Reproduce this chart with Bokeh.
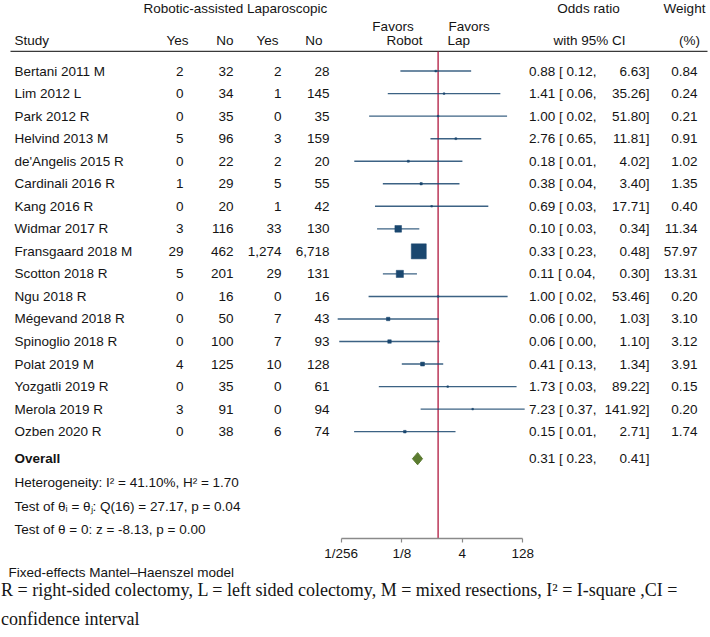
import numpy as np
from bokeh.plotting import figure
from bokeh.layouts import column
from bokeh.models import Range1d, LinearScale, FixedTicker, CustomJSTickFormatter, ColumnDataSource
from bokeh.core.properties import value
from bokeh.embed import file_html
from bokeh.resources import INLINE

# ---------------- data ----------------
studies = ["Bertani 2011 M", "Lim 2012 L", "Park 2012 R", "Helvind 2013 M",
           "de'Angelis 2015 R", "Cardinali 2016 R", "Kang 2016 R", "Widmar 2017 R",
           "Fransgaard 2018 M", "Scotton 2018 R", "Ngu 2018 R", "Mégevand 2018 R",
           "Spinoglio 2018 R", "Polat 2019 M", "Yozgatli 2019 R", "Merola 2019 R",
           "Ozben 2020 R"]
robot_yes = [2, 0, 0, 5, 0, 1, 0, 3, 29, 5, 0, 0, 0, 4, 0, 3, 0]
robot_no = [32, 34, 35, 96, 22, 29, 20, 116, 462, 201, 16, 50, 100, 125, 35, 91, 38]
lap_yes = [2, 1, 0, 3, 2, 5, 1, 33, 1274, 29, 0, 7, 7, 10, 0, 0, 6]
lap_no = [28, 145, 35, 159, 20, 55, 42, 130, 6718, 131, 16, 43, 93, 128, 61, 94, 74]
odds_ratio = [0.876, 1.406, 1.000, 2.760, 0.182, 0.379, 0.691, 0.102, 0.331, 0.112,
              1.000, 0.0574, 0.0620, 0.410, 1.732, 7.230, 0.149]
ci_low = [0.1155, 0.0561, 0.0193, 0.6453, 0.00825, 0.0423, 0.0270, 0.0304, 0.2263, 0.0424,
          0.0187, 0.00319, 0.00349, 0.1252, 0.0336, 0.368, 0.00817]
ci_high = [6.63, 35.26, 51.80, 11.81, 4.02, 3.40, 17.71, 0.341, 0.484, 0.298,
           53.46, 1.033, 1.10, 1.34, 89.22, 141.92, 2.71]
weight = [0.84, 0.24, 0.21, 0.91, 1.02, 1.35, 0.40, 11.34, 57.97, 13.31,
          0.20, 3.10, 3.12, 3.91, 0.15, 0.20, 1.74]
overall_or, overall_low, overall_high = 0.31, 0.23, 0.41
axis_ticks = [1 / 256, 1 / 8, 4, 128]
axis_tick_labels = ["1/256", "1/8", "4", "128"]
heterogeneity_text = "Heterogeneity: I² = 41.10%, H² = 1.70"
homogeneity_text = "Test of θᵢ = θⱼ: Q(16) = 27.17, p = 0.04"
effect_text = "Test of θ = 0: z = -8.13, p = 0.00"
model_text = "Fixed-effects Mantel–Haenszel model"
note_line1 = "R = right-sided colectomy, L = left sided colectomy, M = mixed resections, I² = I-square ,CI ="
note_line2 = "confidence interval"

# ---------------- layout constants ----------------
W = 710
FRAME_H = 539
AX_H = 24
NOTE_H = 73
PX_PER_LOG2 = 12.11
NULL_PX = 437.6
x_lo = 2 ** (-NULL_PX / PX_PER_LOG2)
x_hi = 2 ** ((W - NULL_PX) / PX_PER_LOG2)
Y_BOTTOM, Y_TOP = 20.74, -3.131

FONT = value("Liberation Sans")
SERIF = value("Liberation Serif")
FS = "13.5px"
TXT = "#141414"
NAVY = "#1a476f"
RED = "#b0173e"
GREEN = "#5b7b30"

rows = np.arange(len(studies), dtype=float)
ROW_TOP = -2.777
ROW_FAVORS = -1.98
ROW_HEAD = -1.36
ROW_LINE = -0.872
ROW_OVERALL = 17.2
ROW_HET = 18.26
ROW_T1 = 19.31
ROW_T2 = 20.33

p = figure(width=W, height=FRAME_H + AX_H, x_axis_type="log",
           x_range=Range1d(x_lo, x_hi), y_range=Range1d(Y_BOTTOM, Y_TOP),
           output_backend="svg", toolbar_location=None, y_axis_location=None,
           min_border=0)
p.min_border_bottom = AX_H
p.extra_x_ranges = {"px": Range1d(0, W)}
p.extra_x_scales = {"px": LinearScale()}
p.outline_line_color = None
p.grid.visible = False
p.background_fill_color = "white"
p.border_fill_color = "white"

ax = p.xaxis[0]
ax.ticker = FixedTicker(ticks=axis_ticks, minor_ticks=[])
ax.formatter = CustomJSTickFormatter(args=dict(tick_vals=axis_ticks, tick_names=axis_tick_labels), code="""
const i = tick_vals.findIndex(t => Math.abs(Math.log2(t) - Math.log2(tick)) < 1e-6);
return i >= 0 ? tick_names[i] : '';
""")
ax.bounds = (axis_ticks[0], axis_ticks[-1])
ax.axis_line_color = "#8a8a8a"
ax.axis_line_width = 1.5
ax.major_tick_line_color = "#8a8a8a"
ax.major_tick_line_width = 1.2
ax.major_tick_out = 4
ax.major_tick_in = 0
ax.minor_tick_line_color = None
ax.major_label_text_font = "Liberation Sans"
ax.major_label_text_font_size = FS
ax.major_label_text_color = TXT
ax.major_label_standoff = 3


def add_text(fig, xs, ys, texts, align="left", font=FONT, size=FS, style="normal", rng="px"):
    src = ColumnDataSource(dict(x=list(xs), y=list(ys), t=list(texts)))
    fig.text(x="x", y="y", text="t", source=src, x_range_name=rng,
             text_align=align, text_baseline="middle", text_font=font,
             text_font_size=size, text_color=TXT, text_font_style=style)


# header
add_text(p, [143], [ROW_TOP], ["Robotic-assisted Laparoscopic"])
add_text(p, [588], [ROW_TOP], ["Odds ratio"], align="center")
add_text(p, [684], [ROW_TOP], ["Weight"], align="center")
add_text(p, [392.5], [ROW_FAVORS], ["Favors"], align="center")
add_text(p, [448], [ROW_FAVORS], ["Favors"])
add_text(p, [422], [ROW_HEAD], ["Robot"], align="right")
add_text(p, [447], [ROW_HEAD], ["Lap"])
add_text(p, [14], [ROW_HEAD], ["Study"])
add_text(p, [188, 233, 278, 322], [ROW_HEAD] * 4, ["Yes", "No", "Yes", "No"], align="right")
add_text(p, [589], [ROW_HEAD], ["with 95% CI"], align="center")
add_text(p, [689], [ROW_HEAD], ["(%)"], align="center")
p.segment(x0=[10], y0=[ROW_LINE], x1=[707], y1=[ROW_LINE], x_range_name="px",
          line_color="#3a3a3a", line_width=1.1)

# table columns
n = len(studies)
add_text(p, [14] * n, rows, studies)
add_text(p, [183] * n, rows, [f"{v:,}" for v in robot_yes], align="right")
add_text(p, [233] * n, rows, [f"{v:,}" for v in robot_no], align="right")
add_text(p, [281] * n, rows, [f"{v:,}" for v in lap_yes], align="right")
add_text(p, [329] * n, rows, [f"{v:,}" for v in lap_no], align="right")
add_text(p, [528.5] * n, rows, [f"{o:.2f} [ {l:.2f}," for o, l in zip(odds_ratio, ci_low)])
add_text(p, [649] * n, rows, [f"{h:.2f}]" for h in ci_high], align="right")
add_text(p, [697] * n, rows, [f"{w:.2f}" for w in weight], align="right")

# overall + stats
add_text(p, [14], [ROW_OVERALL], ["Overall"], style="bold")
add_text(p, [528.5], [ROW_OVERALL], [f"{overall_or:.2f} [ {overall_low:.2f},"])
add_text(p, [649], [ROW_OVERALL], [f"{overall_high:.2f}]"], align="right")
add_text(p, [14, 14, 14], [ROW_HET, ROW_T1, ROW_T2], [heterogeneity_text, homogeneity_text, effect_text])

# forest marks
p.segment(x0=[1], y0=[ROW_LINE], x1=[1], y1=[Y_BOTTOM], line_color=RED, line_width=1.3)
p.segment(x0=ci_low, y0=rows, x1=ci_high, y1=rows, line_color=NAVY, line_width=1.4, line_alpha=0.85)
sizes = np.maximum(1.97 * np.sqrt(np.array(weight)), 1.6)
p.scatter(x=odds_ratio, y=rows, size=sizes, marker="square", fill_color=NAVY, line_color=NAVY, line_width=0.5)
p.patch(x=[overall_low, overall_or, overall_high, overall_or],
        y=[ROW_OVERALL, ROW_OVERALL - 0.27, ROW_OVERALL, ROW_OVERALL + 0.27],
        fill_color=GREEN, line_color=GREEN)

# footnotes
q = figure(width=W, height=NOTE_H, x_range=Range1d(0, W), y_range=Range1d(NOTE_H, 0),
           output_backend="svg", toolbar_location=None, min_border=0,
           x_axis_location=None, y_axis_location=None)
q.outline_line_color = None
q.grid.visible = False
add_text(q, [8], [9], [model_text], size="13.5px", rng="default")
add_text(q, [0.5], [26], [note_line1], font=SERIF, size="18px", rng="default")
add_text(q, [0.5], [55], [note_line2], font=SERIF, size="18px", rng="default")

layout = column(p, q, spacing=0)
open("out.html", "w").write(file_html(layout, INLINE))
